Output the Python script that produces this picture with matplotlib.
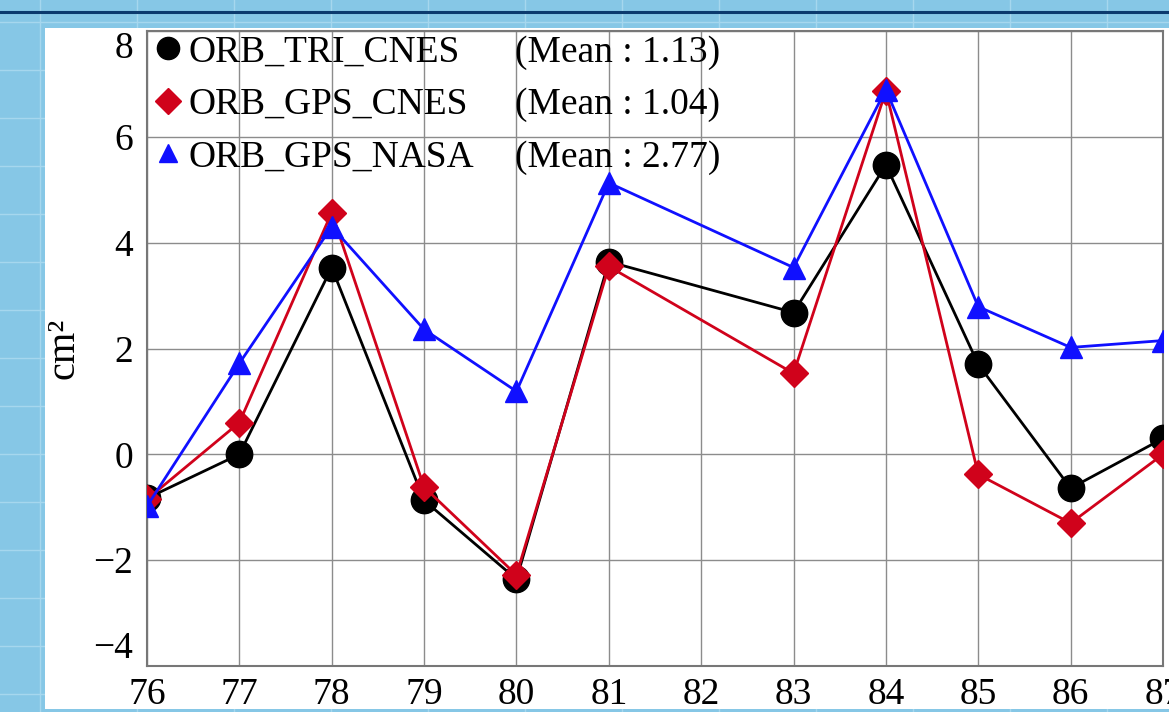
import numpy as np
import matplotlib.pyplot as plt
from matplotlib.lines import Line2D
from matplotlib.patches import Rectangle

# Orbit solutions compared cycle by cycle (cycle 82 has no value)
cycles = [76, 77, 78, 79, 80, 81, 83, 84, 85, 86, 87]
tri_cnes = [-0.83, 0.00, 3.53, -0.87, -2.36, 3.64, 2.68, 5.47, 1.70, -0.64, 0.30]
gps_cnes = [-0.85, 0.60, 4.57, -0.62, -2.28, 3.55, 1.53, 6.87, -0.38, -1.30, 0.00]
gps_nasa = [-0.98, 1.72, 4.30, 2.36, 1.19, 5.13, 3.53, 6.89, 2.79, 2.02, 2.15]

names = ["ORB_TRI_CNES", "ORB_GPS_CNES", "ORB_GPS_NASA"]
means = [1.13, 1.04, 2.77]

plt.rcParams['font.family'] = ['Liberation Serif', 'DejaVu Serif']

fig = plt.figure(figsize=(11.69, 7.12), dpi=100)
fig.patch.set_facecolor('#86c7e6')

# faint tile lines of the slide background
for x in np.arange(40, 1169, 97):
    fig.add_artist(Line2D([x / 1169, x / 1169], [0, 1], color='#a6d7ee', lw=1, zorder=0))
for y in np.arange(22, 712, 48):
    fig.add_artist(Line2D([0, 1], [1 - y / 712, 1 - y / 712], color='#a6d7ee', lw=1, zorder=0))
fig.add_artist(Line2D([0, 1], [1 - 12 / 712, 1 - 12 / 712], color='#0b3a6e', lw=2.2, zorder=1))

# white panel behind the chart
fig.add_artist(Rectangle((45 / 1169, 3 / 712), 1.0, (709 - 28) / 712,
                         facecolor='white', edgecolor='none', zorder=1))

ax = fig.add_axes([147 / 1169, 46 / 712, (1163 - 147) / 1169, (681 - 46) / 712])
ax.set_zorder(2)
ax.set_facecolor('white')

ax.plot(cycles, tri_cnes, color='black', lw=2, marker='o', ms=19, zorder=3)
ax.plot(cycles, gps_cnes, color='#d0021b', lw=2, marker='D', ms=14, zorder=4)
ax.plot(cycles, gps_nasa, color='#1010ff', lw=2, marker='^', ms=16, zorder=5)

ax.set_xlim(76, 87)
ax.set_ylim(-4, 8)
ax.set_xticks(range(76, 88))
ax.set_yticks(range(-4, 9, 2))
ax.grid(True, color='#8c8c8c', lw=1)
ax.set_axisbelow(True)
ax.tick_params(length=0, labelsize=27, pad=10)
ax.tick_params(axis='x', pad=8)
for s in ax.spines.values():
    s.set_color('#777777')
    s.set_linewidth(1.5)

ylabels = ax.get_yticklabels()
ylabels[0].set_va('bottom')
ylabels[-1].set_va('top')

ax.set_ylabel('cm²', fontsize=29, labelpad=8)

handles = [
    Line2D([], [], ls='none', color='black', marker='o', ms=16),
    Line2D([], [], ls='none', color='#d0021b', marker='D', ms=13),
    Line2D([], [], ls='none', color='#1010ff', marker='^', ms=13),
]
leg1 = ax.legend(handles, names, loc='upper left', bbox_to_anchor=(-0.016, 1.035),
                 frameon=False, fontsize=27, handlelength=0.6, handletextpad=0.25,
                 labelspacing=0.48, borderpad=0.2)
ax.add_artist(leg1)
blank = [Line2D([], [], ls='none') for _ in names]
ax.legend(blank, [f"(Mean : {m:.2f})" for m in means], loc='upper left',
          bbox_to_anchor=(0.336, 1.035), frameon=False, fontsize=27,
          handlelength=0, handletextpad=0, labelspacing=0.48, borderpad=0.2)

fig.savefig('out.png', dpi=100, facecolor=fig.get_facecolor())
